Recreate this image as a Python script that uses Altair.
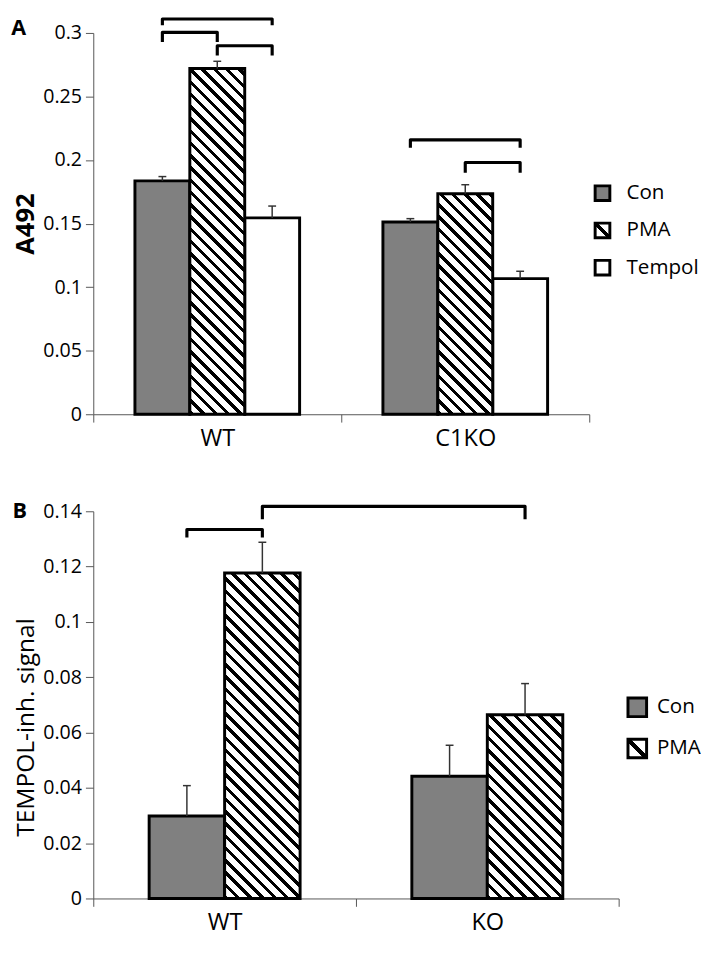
import altair as alt
import pandas as pd

FONT = "Open Sans"

# ---------------- Panel A data ----------------
a_groups = ["WT", "C1KO"]
a_conditions = ["Con", "PMA", "Tempol"]
a_con = [0.1836, 0.1512]
a_con_err = [0.0034, 0.0027]
a_pma = [0.2720, 0.1735]
a_pma_err = [0.0057, 0.0071]
a_tempol = [0.1545, 0.1067]
a_tempol_err = [0.0093, 0.0058]

# significance brackets (from bar -> to bar, top level, leg end)
a_br_from_group = ["WT", "WT", "WT", "C1KO", "C1KO"]
a_br_from_cond = ["Con", "Con", "PMA", "Con", "PMA"]
a_br_to_group = ["WT", "WT", "WT", "C1KO", "C1KO"]
a_br_to_cond = ["Tempol", "PMA", "Tempol", "Tempol", "Tempol"]
a_br_top = [0.3110, 0.3005, 0.2899, 0.2159, 0.1981]
a_br_leg = [0.3060, 0.2929, 0.2822, 0.2096, 0.1900]

# ---------------- Panel B data ----------------
b_groups = ["WT", "KO"]
b_conditions = ["Con", "PMA"]
b_con = [0.0298, 0.0442]
b_con_err = [0.0110, 0.0112]
b_pma = [0.1177, 0.0664]
b_pma_err = [0.0111, 0.0113]

b_br_from_group = ["WT", "WT"]
b_br_from_cond = ["Con", "PMA"]
b_br_to_group = ["WT", "KO"]
b_br_to_cond = ["PMA", "PMA"]
b_br_top = [0.1334, 0.1418]
b_br_leg = [0.1305, 0.1371]


def hatch_stops(total, period, black):
    stops = []
    d = 0.0
    while d < total:
        a = d / total
        b = min(d + black, total) / total
        c = min(d + period, total) / total
        stops += [
            {"offset": a, "color": "black"},
            {"offset": b, "color": "black"},
            {"offset": b, "color": "white"},
            {"offset": c, "color": "white"},
        ]
        d += period
    return stops


def bar_hatch(w, h, period=12.5, black=4.6):
    s = (w + h) / (w * w + h * h)
    return {
        "gradient": "linear",
        "x1": 0, "y1": 1,
        "x2": w * s, "y2": 1 - h * s,
        "stops": hatch_stops(w + h, period, black),
    }


def legend_hatch_expr():
    bw = 0.085
    stops = [(0, "black"), (bw, "black"), (bw, "white"), (0.5 - bw, "white"),
             (0.5 - bw, "black"), (0.5 + bw, "black"), (0.5 + bw, "white"),
             (1 - bw, "white"), (1 - bw, "black"), (1, "black")]
    st = ",".join("{offset:%g,color:'%s'}" % (o, c) for o, c in stops)
    return "{gradient:'linear',x1:0,y1:1,x2:1,y2:0,stops:[%s]}" % st


def panel(groups, conds, means, errs, br, ymax, ystep, width, height, bar_px,
          ytitle, ybold, ytitle_size, ytitle_y, letter, letter_xy, legend_kw, cap_px=8):
    unit = width / len(groups)
    bw = bar_px / unit
    cap = cap_px / unit
    n = len(conds)
    rows = []
    for gi, g in enumerate(groups):
        for ci, c in enumerate(conds):
            xc = gi + 0.5 + (ci - (n - 1) / 2) * bw
            v = means[c][gi]
            hi = v + errs[c][gi]
            rows.append(dict(group=g, cond=c, x0=xc - bw / 2, x1=xc + bw / 2,
                             xc=xc, c0=xc - cap / 2, c1=xc + cap / 2,
                             value=v, hi=hi, zero=0.0))
    df = pd.DataFrame(rows)
    centers = {(r["group"], r["cond"]): r["xc"] for r in rows}

    brows = []
    fg, fc, tg, tc, top, leg = br
    for i in range(len(fg)):
        xa = centers[(fg[i], fc[i])]
        xb = centers[(tg[i], tc[i])]
        for k, (xx, yy) in enumerate([(xa, leg[i]), (xa, top[i]), (xb, top[i]), (xb, leg[i])]):
            brows.append(dict(id=i, ord=k, x=xx, y=yy))
    dbr = pd.DataFrame(brows)

    ng = len(groups)
    xvals = [i * 0.5 for i in range(2 * ng + 1)]
    lab = "".join("datum.value == %g ? '%s' : " % (gi + 0.5, g) for gi, g in enumerate(groups)) + "''"
    xscale = alt.Scale(domain=[0, ng], nice=False, zero=False)
    xaxis = alt.Axis(values=xvals, labelExpr=lab, title=None, tickSize=8,
                     tickOpacity={"condition": {"test": "datum.value % 1 != 0", "value": 0}, "value": 1},
                     labelOverlap=False, labelFlush=False, labelFontSize=24, labelPadding=5,
                     domainColor="#555", tickColor="#555", grid=False)
    nticks = int(round(ymax / ystep))
    yvals = [round(i * ystep, 4) for i in range(nticks + 1)]
    yscale = alt.Scale(domain=[0, ymax], nice=False, zero=True)
    ykw = dict(values=yvals, format="~g", title=ytitle, tickSize=8,
               labelFontSize=20, labelPadding=4, grid=False,
               titleFontSize=ytitle_size, titleFontWeight="bold" if ybold else "normal",
               titlePadding=4, domainColor="#555", tickColor="#555")
    if ytitle_y is not None:
        ykw["titleY"] = ytitle_y
    yaxis = alt.Axis(**ykw)

    rng = ["#808080"] + ([{"expr": legend_hatch_expr()}] if "PMA" in conds else []) + \
          (["#ffffff"] if "Tempol" in conds else [])

    base = alt.Chart(df)
    bars = base.transform_filter("datum.cond != 'PMA'").mark_rect(
        stroke="black", strokeWidth=3
    ).encode(
        x=alt.X("x0:Q", scale=xscale, axis=xaxis),
        x2="x1:Q",
        y=alt.Y("value:Q", scale=yscale, axis=yaxis),
        y2="zero:Q",
        fill=alt.Fill("cond:N", scale=alt.Scale(domain=conds, range=rng),
                      legend=alt.Legend(title=None, symbolType="square",
                                        symbolStrokeColor="black", symbolStrokeWidth=3,
                                        labelFont=FONT, labelFontSize=21, labelColor="black",
                                        orient="none", **legend_kw)),
    )
    layers = [bars]
    for gi, g in enumerate(groups):
        v = means["PMA"][gi]
        hpx = v / ymax * height
        layers.append(
            base.transform_filter("datum.cond == 'PMA' && datum.group == '%s'" % g)
            .mark_rect(stroke="black", strokeWidth=3, fill=bar_hatch(bar_px, hpx))
            .encode(x="x0:Q", x2="x1:Q", y="value:Q", y2="zero:Q")
        )
    err = base.mark_rule(color="#333", strokeWidth=1.5).encode(x="xc:Q", y="hi:Q", y2="value:Q")
    caps = base.mark_rule(color="#333", strokeWidth=1.5).encode(x="c0:Q", x2="c1:Q", y="hi:Q")
    brk = alt.Chart(dbr).mark_line(color="black", strokeWidth=3.2, strokeJoin="round",
                                   strokeCap="butt").encode(
        x="x:Q", y="y:Q", detail="id:N", order="ord:Q")
    let = alt.Chart(pd.DataFrame({"t": [letter]})).mark_text(
        font=FONT, fontSize=22, fontWeight="bold", color="black", align="center", baseline="middle"
    ).encode(text="t:N", x=alt.value(letter_xy[0]), y=alt.value(letter_xy[1]))
    layers += [err, caps, brk, let]
    return alt.layer(*layers).properties(width=width, height=height)


chart_a = panel(
    a_groups, a_conditions,
    {"Con": a_con, "PMA": a_pma, "Tempol": a_tempol},
    {"Con": a_con_err, "PMA": a_pma_err, "Tempol": a_tempol_err},
    (a_br_from_group, a_br_from_cond, a_br_to_group, a_br_to_cond, a_br_top, a_br_leg),
    0.3, 0.05, 506, 389, 56, "A492", True, 26, None, "A", (-76, -5),
    dict(legendX=509, legendY=153, symbolSize=225, rowPadding=11, labelOffset=14),
)
chart_b = panel(
    b_groups, b_conditions,
    {"Con": b_con, "PMA": b_pma},
    {"Con": b_con_err, "PMA": b_pma_err},
    (b_br_from_group, b_br_from_cond, b_br_to_group, b_br_to_cond, b_br_top, b_br_leg),
    0.14, 0.02, 536, 395, 77, "TEMPOL-inh. signal", False, 25, 220, "B", (-75, 0),
    dict(legendX=544, legendY=189, symbolSize=361, rowPadding=10, labelOffset=9),
)

chart = alt.vconcat(chart_a, chart_b, spacing=51).resolve_scale(
    x="independent", y="independent", fill="independent"
).resolve_legend(fill="independent").properties(
    padding={"left": 3, "top": 0, "right": 0, "bottom": 0}
).configure_view(stroke=None).configure_axis(
    labelFont=FONT, titleFont=FONT, labelColor="black", titleColor="black"
)

chart.save("out.html", embed_options={"renderer": "svg", "actions": False})
